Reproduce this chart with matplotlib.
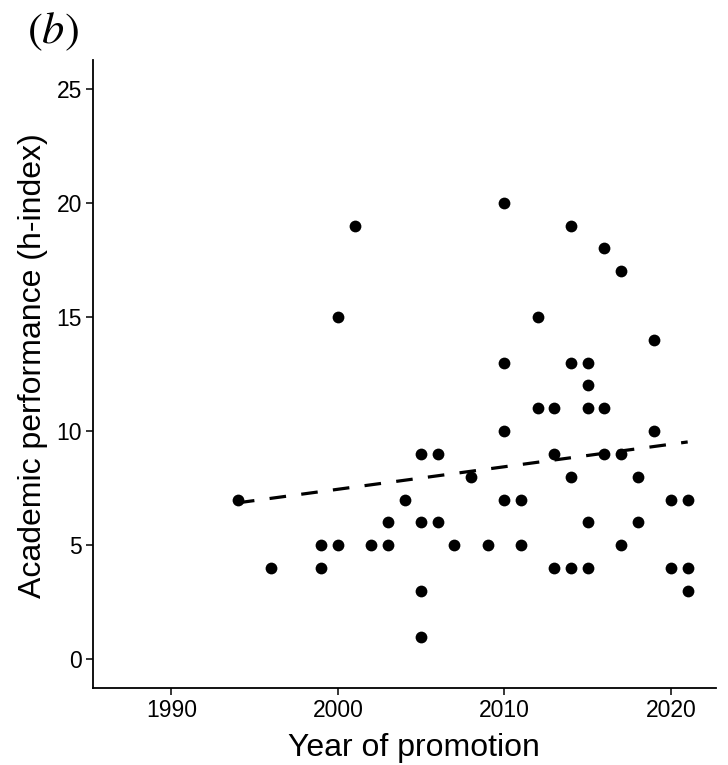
import numpy as np
import matplotlib
matplotlib.use("Agg")
import matplotlib.pyplot as plt

plt.rcParams['font.family'] = ['Liberation Sans', 'DejaVu Sans']
plt.rcParams['mathtext.fontset'] = 'stix'

# Data
years = [1994, 1996, 1999, 1999, 2000, 2000, 2001, 2002, 2003, 2003, 2004,
         2005, 2005, 2005, 2005, 2006, 2006, 2007, 2008, 2009,
         2010, 2010, 2010, 2010, 2011, 2011, 2012, 2012,
         2013, 2013, 2013, 2014, 2014, 2014, 2014,
         2015, 2015, 2015, 2015, 2015, 2016, 2016, 2016,
         2017, 2017, 2017, 2018, 2018, 2019, 2019, 2020, 2020,
         2021, 2021, 2021]
hindex = [7, 4, 5, 4, 15, 5, 19, 5, 6, 5, 7,
          9, 6, 3, 1, 9, 6, 5, 8, 5,
          20, 13, 10, 7, 7, 5, 15, 11,
          11, 9, 4, 19, 13, 8, 4,
          13, 12, 11, 6, 4, 18, 11, 9,
          17, 9, 5, 8, 6, 14, 10, 7, 4,
          7, 4, 3]
x_ticks = [1990, 2000, 2010, 2020]
y_ticks = [0, 5, 10, 15, 20, 25]

x = np.array(years, dtype=float)
y = np.array(hindex, dtype=float)
slope, intercept = np.polyfit(x, y, 1)
xl = np.array([x.min(), x.max()])
yl = intercept + slope * xl

fig = plt.figure(figsize=(7.28, 7.65), dpi=100)
ax = fig.add_axes([93/728, 1 - 688/765, (716 - 93)/728, (688 - 60)/765])

ax.scatter(x, y, s=72, color='black', zorder=3, linewidths=0)
ln, = ax.plot(xl, yl, color='black', lw=2.3, zorder=2)
ln.set_dashes((5.2, 4.8))

ax.set_xlim(1987 - 1.7, 2021 + 1.7)
ax.set_ylim(-1.25, 26.25)
ax.set_xticks(x_ticks)
ax.set_yticks(y_ticks)
ax.tick_params(axis='both', direction='out', length=5, width=1.1,
               color='black', labelcolor='black', labelsize=16.5, pad=3)

for s in ['top', 'right']:
    ax.spines[s].set_visible(False)
for s in ['left', 'bottom']:
    ax.spines[s].set_linewidth(1.3)
    ax.spines[s].set_color('black')

ax.set_xlabel('Year of promotion', fontsize=23)
ax.set_ylabel('Academic performance (h-index)', fontsize=23)
ax.xaxis.set_label_coords(0.515, -0.072, transform=ax.transAxes)
ax.xaxis.label.set_va('top')
ax.yaxis.set_label_coords(-0.072, 0.513, transform=ax.transAxes)

fig.text(27/728, 1 - 32/765, r'$(b)$', fontsize=32, ha='left', va='center')

fig.savefig('out.png', dpi=100)
